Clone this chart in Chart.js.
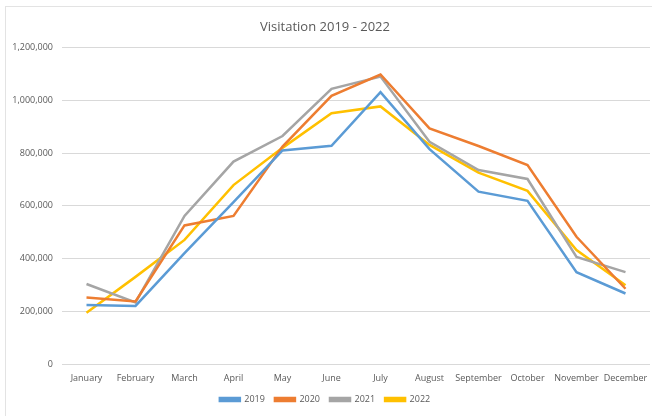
<!DOCTYPE html>
<html>
<head>
<meta charset="utf-8">
<script src="https://cdn.jsdelivr.net/npm/chart.js@4/dist/chart.umd.min.js"></script>
<style>
  html, body { margin: 0; padding: 0; background: #fff; }
  #frame { position: absolute; left: 5px; top: 6px; width: 660px; height: 420px; border: 1px solid #e3e3e3; }
  #wrap { position: absolute; left: 0; top: 0; width: 652px; height: 416px; }
</style>
</head>
<body>
<div id="frame"></div>
<div id="wrap"><canvas id="visitChart" width="652" height="416"></canvas></div>
<script>
const months = ['January', 'February', 'March', 'April', 'May', 'June', 'July', 'August', 'September', 'October', 'November', 'December'];
const visits2019 = [224000, 221000, 421000, 614000, 810000, 828000, 1031000, 815000, 654000, 619000, 349000, 268000];
const visits2020 = [253000, 238000, 526000, 562000, 825000, 1017000, 1098000, 894000, 827000, 755000, 483000, 286000];
const visits2021 = [304000, 234000, 562000, 768000, 865000, 1044000, 1090000, 843000, 736000, 702000, 407000, 349000];
const visits2022 = [195000, 331000, 471000, 679000, 820000, 951000, 977000, 831000, 726000, 657000, 433000, 299000];
const yTicks = [0, 200000, 400000, 600000, 800000, 1000000, 1200000];

const textColor = '#595959';
const fontFamily = '"Open Sans", "Liberation Sans", sans-serif';

function line(label, data, color) {
  return {
    label: label,
    data: data,
    borderColor: color,
    backgroundColor: color,
    borderWidth: 2.5,
    pointRadius: 0,
    tension: 0,
    fill: false
  };
}

const visitChart = document.getElementById('visitChart');
new Chart(visitChart, {
  type: 'line',
  data: {
    labels: months,
    datasets: [
      line('2019', visits2019, '#5B9BD5'),
      line('2020', visits2020, '#ED7D31'),
      line('2021', visits2021, '#A5A5A5'),
      line('2022', visits2022, '#FFC000')
    ]
  },
  options: {
    responsive: false,
    animation: false,
    layout: {
      padding: { top: 6, right: 2, bottom: 2, left: 0 }
    },
    plugins: {
      title: {
        display: true,
        text: 'Visitation 2019 - 2022',
        color: textColor,
        font: { family: fontFamily, size: 13, weight: 'normal' },
        padding: { top: 13, bottom: 13 }
      },
      legend: {
        position: 'bottom',
        labels: {
          color: textColor,
          font: { family: fontFamily, size: 9 },
          boxWidth: 20,
          boxHeight: 3,
          padding: 10
        }
      },
      tooltip: { enabled: false }
    },
    scales: {
      x: {
        offset: true,
        grid: { display: false },
        border: { display: false },
        ticks: {
          color: textColor,
          font: { family: fontFamily, size: 9 },
          maxRotation: 0,
          autoSkip: false,
          padding: 1
        }
      },
      y: {
        min: 0,
        max: 1200000,
        afterBuildTicks: function (scale) {
          scale.ticks = yTicks.map(function (v) { return { value: v }; });
        },
        afterFit: function (scale) { scale.width = 62; },
        grid: { color: '#d9d9d9', lineWidth: 1, drawTicks: false },
        border: { display: false },
        ticks: {
          color: textColor,
          font: { family: fontFamily, size: 9 },
          padding: 9,
          callback: function (v) { return v.toLocaleString('en-US'); }
        }
      }
    }
  }
});
</script>
</body>
</html>
